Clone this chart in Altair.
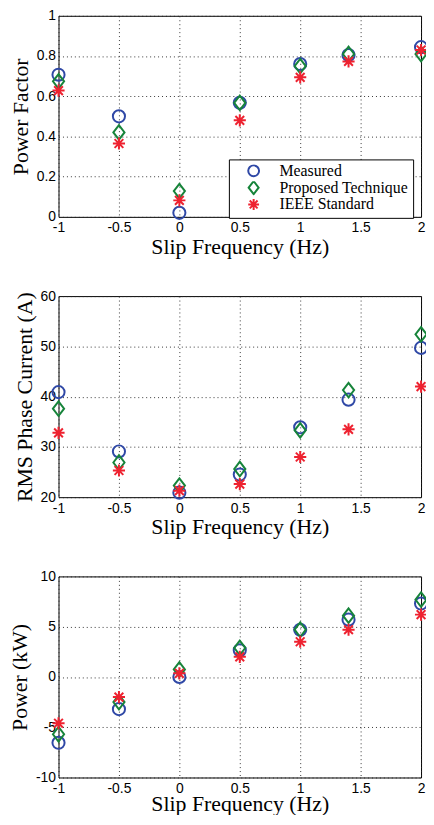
import altair as alt
import pandas as pd

slip = [-1, -0.5, 0, 0.5, 1, 1.4, 2]
series = ["Measured", "Proposed Technique", "IEEE Standard"]
colors = ["#2f48a6", "#16843a", "#ee2230"]

pf_measured = [0.707, 0.50, 0.02, 0.567, 0.76, 0.805, 0.844]
pf_proposed = [0.674, 0.42, 0.128, 0.567, 0.75, 0.81, 0.81]
pf_ieee = [0.628, 0.365, 0.082, 0.48, 0.694, 0.773, 0.83]

cur_measured = [40.9, 29.1, 20.9, 24.5, 33.9, 39.4, 49.7]
cur_proposed = [37.6, 26.9, 22.3, 25.6, 33.3, 41.3, 52.4]
cur_ieee = [32.8, 25.3, 21.3, 22.6, 28.0, 33.5, 42.0]

pow_measured = [-6.55, -3.2, 0.0, 2.66, 4.7, 5.7, 7.3]
pow_proposed = [-5.7, -2.5, 0.75, 2.9, 4.7, 6.1, 7.7]
pow_ieee = [-4.6, -2.0, 0.36, 2.0, 3.5, 4.7, 6.2]

x_ticks = [-1, -0.5, 0, 0.5, 1, 1.5, 2]

asterisk = "M-1,0L1,0M0,-1L0,1M-0.72,-0.72L0.72,0.72M-0.72,0.72L0.72,-0.72"
diamond = "M-0.92,0L0,-1.2L0.92,0L0,1.2Z"
shapes = ["circle", diamond, asterisk]


def frame(vals):
    rows = []
    for s, v in zip(series, vals):
        for x, y in zip(slip, v):
            rows.append({"slip": x, "val": y, "series": s})
    return pd.DataFrame(rows)


SERIF = "Liberation Serif"
SANS = "Liberation Sans"
LBL = "'' + datum.value"
W = 366


def panel(vals, title, domain, yticks, show_legend, xtitle_pad):
    legend = None
    if show_legend:
        legend = alt.Legend(
            title=None, orient="none", legendX=172, legendY=145,
            strokeColor="black", fillColor="white", padding=5,
            labelFont=SERIF, labelFontSize=16, labelColor="black",
            labelOffset=18, symbolOffset=12, rowPadding=0, clipHeight=13,
            symbolStrokeWidth=2, symbolSize=120, symbolType="circle",
            cornerRadius=0, labelLimit=300,
        )
    xaxis = alt.Axis(
        values=x_ticks, title="Slip Frequency (Hz)", labelExpr=LBL,
        grid=True, gridDash=[1, 3], gridColor="#222", gridOpacity=0.9,
        domain=False, ticks=False, labelFont=SANS, labelFontSize=14,
        labelColor="black", labelPadding=4, labelFlush=False,
        titleFont=SERIF, titleFontSize=22, titleFontWeight="normal",
        titleColor="black", titlePadding=xtitle_pad, labelOverlap=False,
    )
    yaxis = alt.Axis(
        values=yticks, title=title, labelExpr=LBL,
        grid=True, gridDash=[1, 3], gridColor="#222", gridOpacity=0.9,
        domain=False, ticks=False, labelFont=SANS, labelFontSize=14,
        labelColor="black", labelPadding=3, labelFlush=False,
        titleFont=SERIF, titleFontSize=22, titleFontWeight="normal",
        titleColor="black", titlePadding=4, labelOverlap=False,
    )
    return alt.Chart(frame(vals)).mark_point(
        filled=False, strokeWidth=2, size=150, opacity=1
    ).encode(
        x=alt.X("slip:Q", scale=alt.Scale(domain=[-1, 2], nice=False), axis=xaxis),
        y=alt.Y("val:Q", scale=alt.Scale(domain=domain, nice=False), axis=yaxis),
        color=alt.Color("series:N", scale=alt.Scale(domain=series, range=colors),
                        legend=legend, sort=series),
        shape=alt.Shape("series:N", scale=alt.Scale(domain=series, range=shapes),
                        legend=legend, sort=series),
    ).properties(width=W, height=203)


p1 = panel([pf_measured, pf_proposed, pf_ieee], "Power Factor", [0, 1],
           [0, 0.2, 0.4, 0.6, 0.8, 1], True, 2)
p2 = panel([cur_measured, cur_proposed, cur_ieee], "RMS Phase Current (A)", [20, 60],
           [20, 30, 40, 50, 60], False, 2)
p3 = panel([pow_measured, pow_proposed, pow_ieee], "Power (kW)", [-10, 10],
           [-10, -5, 0, 5, 10], False, -2)

chart = alt.vconcat(p1, p2, p3, spacing=30).resolve_scale(
    color="independent", shape="independent"
).resolve_legend(color="independent", shape="independent").configure_view(
    stroke="black", strokeWidth=1
).properties(padding={"left": 0, "top": -4, "right": -6, "bottom": -4})

chart.save("out.html", embed_options={"renderer": "svg", "actions": False})
